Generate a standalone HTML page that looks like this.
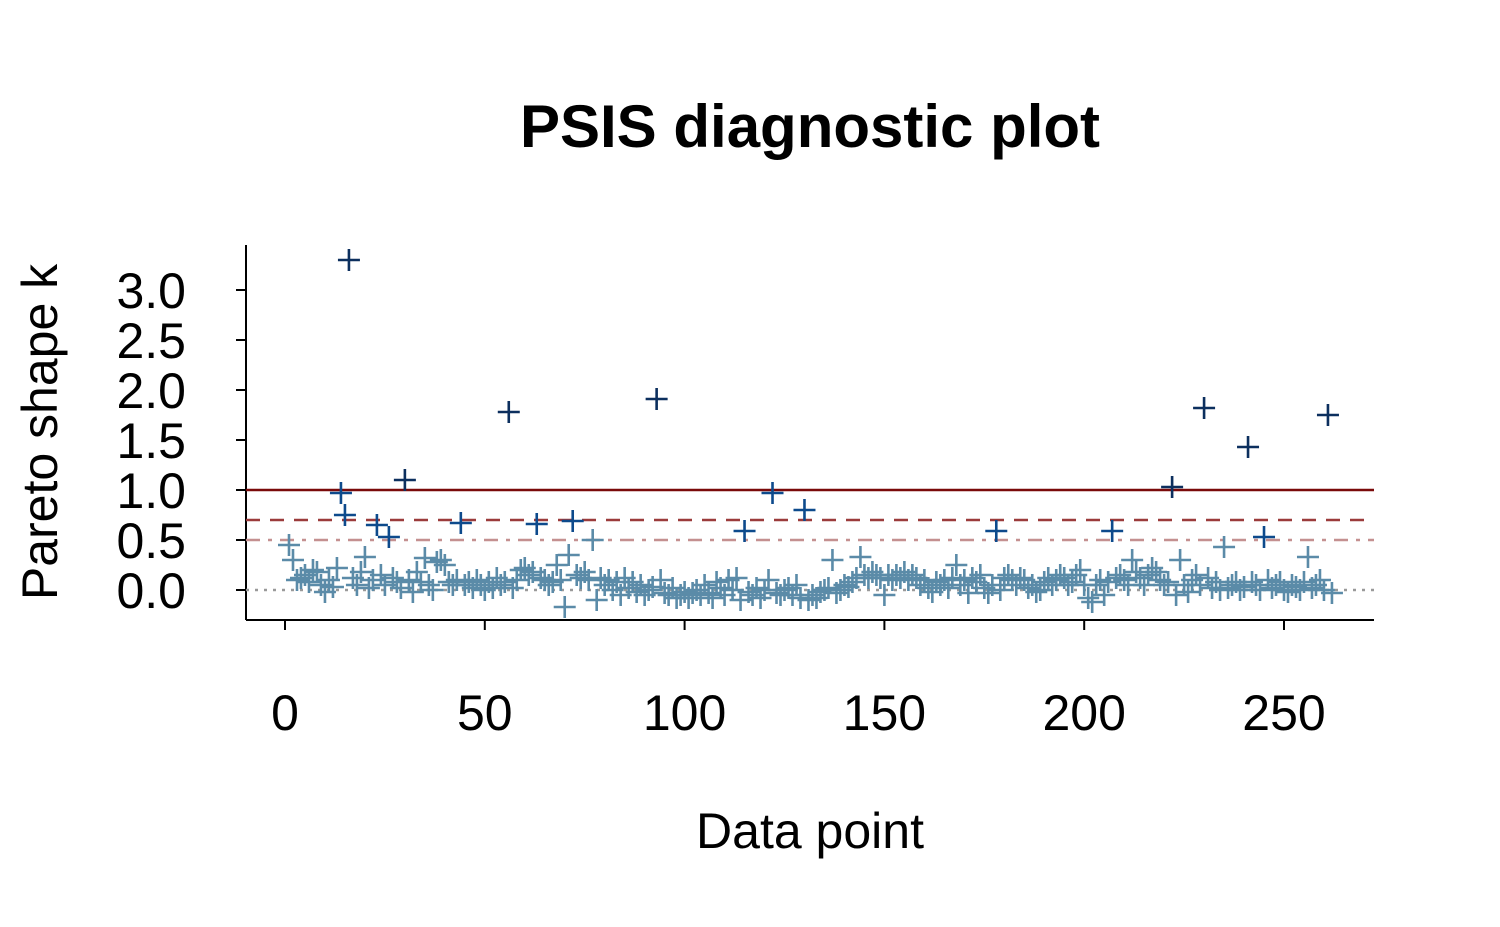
<!DOCTYPE html>
<html><head><meta charset="utf-8"><style>
body{margin:0;background:#fff;}
svg{display:block;font-family:"Liberation Sans",Arial,sans-serif;}
</style></head><body>
<svg id="chart" width="1500" height="927" viewBox="0 0 1500 927">
<rect width="1500" height="927" fill="#fff"/>
<text x="810" y="147" text-anchor="middle" font-size="60" font-weight="bold">PSIS diagnostic plot</text>
<text transform="translate(57,432) rotate(-90)" text-anchor="middle" font-size="50">Pareto shape k</text>
<text x="810" y="848" text-anchor="middle" font-size="50">Data point</text>
<g id="axes"></g>
<g id="refs"></g>
<g id="points"></g>
</svg>
<script>
const xTicks=[0,50,100,150,200,250];
const yTicks=[0.0,0.5,1.0,1.5,2.0,2.5,3.0];
const refLevels=[0,0.5,0.7,1.0];
const kValues=[
0.45,0.30,0.10,0.12,0.15,0.08,0.20,0.18,0.05,-0.02,0.10,0.03,0.22,0.97,0.75,3.30,0.12,0.05,0.18,0.33,
0.02,0.10,0.65,0.15,0.05,0.53,0.12,0.08,0.02,1.10,0.10,-0.02,0.18,0.08,0.32,0.05,0.00,0.28,0.30,0.25,
0.08,0.05,0.10,0.67,0.05,0.08,0.02,0.10,0.05,0.00,0.08,0.02,0.12,0.05,0.08,1.78,0.02,0.10,0.20,0.22,
0.15,0.18,0.66,0.12,0.10,0.05,0.08,0.25,0.10,-0.17,0.35,0.69,0.15,0.12,0.18,0.10,0.50,-0.10,0.12,0.05,
0.10,0.00,0.08,-0.05,0.12,0.02,0.08,-0.02,0.05,-0.05,0.00,0.03,1.91,0.10,-0.03,-0.05,0.02,-0.08,-0.05,-0.02,
-0.08,-0.03,0.00,-0.05,0.05,-0.03,-0.08,0.08,0.02,-0.05,0.10,0.00,0.12,-0.10,0.59,-0.02,-0.05,0.02,-0.08,0.00,
0.10,0.97,-0.03,-0.05,0.00,0.02,-0.05,0.05,-0.08,0.80,-0.10,-0.05,-0.08,-0.02,0.00,0.02,0.30,-0.03,0.00,0.05,
0.03,0.08,0.12,0.33,0.15,0.12,0.18,0.15,0.12,-0.05,0.15,0.10,0.15,0.12,0.18,0.10,0.15,0.12,0.05,0.10,
0.02,-0.02,0.08,0.05,0.10,0.02,0.12,0.25,0.05,0.10,-0.03,0.12,0.08,0.15,0.02,-0.03,0.05,0.59,0.00,0.12,
0.15,0.10,0.05,0.12,0.10,0.02,0.05,-0.02,0.00,0.08,0.12,0.05,0.10,0.15,0.12,0.05,0.08,0.15,0.20,0.05,
-0.08,-0.12,0.05,0.10,-0.05,0.08,0.59,0.12,0.15,0.10,0.05,0.30,0.18,0.12,0.05,0.15,0.22,0.18,0.10,0.05,
0.08,1.03,-0.05,0.30,0.05,-0.02,0.10,0.15,0.05,1.82,0.12,0.02,0.08,0.00,0.43,0.02,0.05,0.08,0.00,0.03,
1.43,0.08,0.05,0.00,0.53,0.10,0.02,0.05,0.08,0.00,-0.02,0.05,0.03,0.00,0.08,0.33,0.02,0.05,0.10,0.00,1.75,-0.03];
const NS="http://www.w3.org/2000/svg";
function X(v){return 285+v*(1284-285)/250;}
function Y(v){return 590-v*100;}
function mk(tag,at,parent){const e=document.createElementNS(NS,tag);for(const k in at)e.setAttribute(k,at[k]);parent.appendChild(e);return e;}
const axes=document.getElementById('axes');
let l=mk('line',{x1:246,y1:245,x2:246,y2:620,stroke:'#000','stroke-width':2},axes);


l=mk('line',{x1:246,y1:620,x2:1374,y2:620,stroke:'#000','stroke-width':2},axes);


yTicks.forEach(t=>{
 const tk=mk('line',{x1:236,y1:Y(t),x2:246,y2:Y(t),stroke:'#000','stroke-width':2},axes);
 
 
 const tx=mk('text',{x:186,y:Y(t)+18,'text-anchor':'end','font-size':50},axes);
 tx.textContent=t.toFixed(1);
 
 
});
xTicks.forEach(t=>{
 const tk=mk('line',{x1:X(t),y1:620,x2:X(t),y2:630,stroke:'#000','stroke-width':2},axes);
 
 
 const tx=mk('text',{x:X(t),y:730,'text-anchor':'middle','font-size':50},axes);
 tx.textContent=String(t);
 
 
});
const refs=document.getElementById('refs');
const refStyle={0:['#999','3,6',2.5],0.5:['#c49090','14,8,4,8',2.5],0.7:['#9b3b3b','14,10',2.5],1:['#7a0a0a','',2.5]};
refLevels.forEach(r=>{
 const s=refStyle[r];
 const ln=mk('line',{x1:246,y1:Y(r),x2:1374,y2:Y(r),stroke:s[0],'stroke-width':s[2],'stroke-dasharray':s[1]},refs);
 
 
});
const pts=document.getElementById('points');
kValues.forEach((k,i)=>{
 const cx=X(i+1),cy=Y(k);
 const c=k>1?'#0c2f5e':(k>0.5?'#0d4a8c':'#5b8ba8');
 const p=mk('path',{d:`M${cx-11},${cy}H${cx+11}M${cx},${cy-11}V${cy+11}`,stroke:c,'stroke-width':2.6,fill:'none'},pts);
 
 
});
</script>
</body></html>
